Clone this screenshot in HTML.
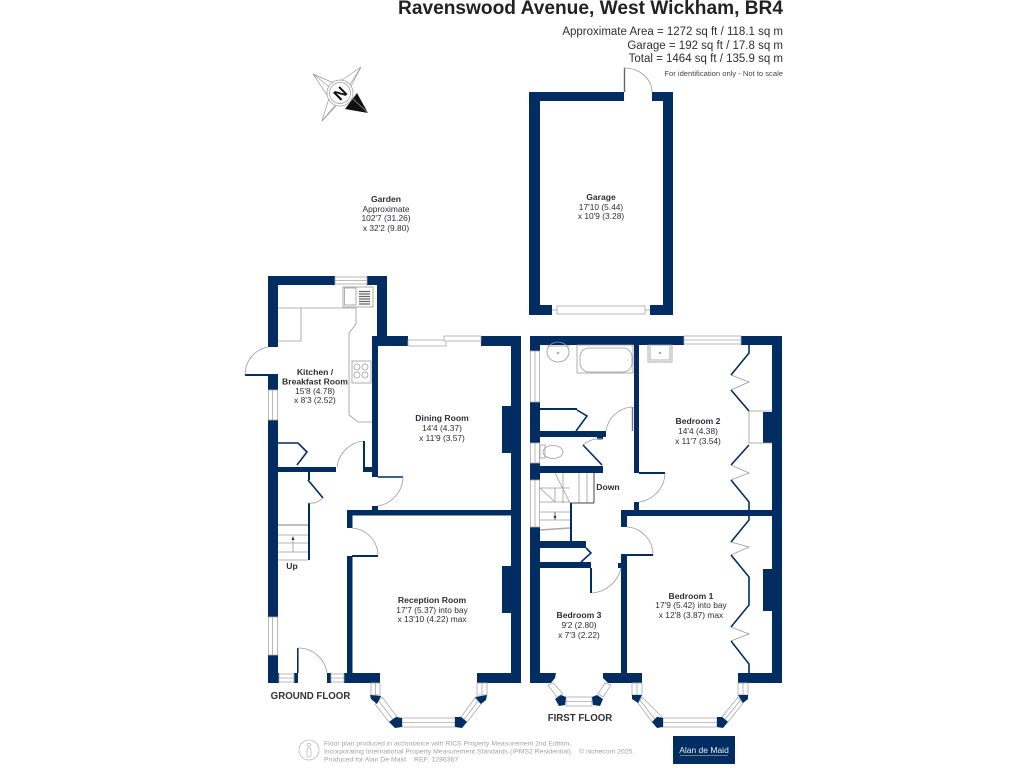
<!DOCTYPE html>
<html><head><meta charset="utf-8"><style>
html,body{margin:0;padding:0;background:#fff;width:1024px;height:768px;overflow:hidden}
svg{display:block;font-family:"Liberation Sans",sans-serif;filter:blur(.35px)}
.w{fill:#012d63}
.k{stroke:#012d63;stroke-width:2;fill:none}
.h{stroke:#012d63;stroke-width:1.6;fill:none}
.g{stroke:#9a9a9a;stroke-width:.8;fill:none}
.win{fill:#fff;stroke:#a8a8a8;stroke-width:.8}
.t{font-size:8.4px;fill:#2e2e33;text-anchor:middle}
.b{font-size:8.6px;font-weight:bold;fill:#2e2e33;text-anchor:middle}
.a{font-size:11.5px;fill:#2f2f2f;text-anchor:end}
.f{font-size:6.85px;fill:#a2a2a8}
</style></head><body>
<svg width="1024" height="768" viewBox="0 0 1024 768" xmlns="http://www.w3.org/2000/svg">
<text x="783" y="14" font-size="19" font-weight="bold" fill="#222" text-anchor="end" textLength="385" lengthAdjust="spacingAndGlyphs">Ravenswood Avenue, West Wickham, BR4</text>
<text class="a" x="783" y="35">Approximate Area = 1272 sq ft / 118.1 sq m</text>
<text class="a" x="783" y="49">Garage = 192 sq ft / 17.8 sq m</text>
<text class="a" x="783" y="62">Total = 1464 sq ft / 135.9 sq m</text>
<text x="783" y="76" font-size="7.6" fill="#444" text-anchor="end">For identification only - Not to scale</text>

<!-- compass -->
<path d="M345 109L357 93L368 113Z" fill="#111"/>
<g fill="none" stroke="#999" stroke-width=".7">
<path d="M313 74L336 84L361 67L350 88M350 96L368 113M336 106L322 121L329 98L313 74"/>
<path d="M313 74L342 97M361 67L342 97M322 121L342 97"/>
<circle cx="340" cy="93" r="13" fill="#fff"/><circle cx="340" cy="93" r="10.500"/>
</g>
<text x="340" y="99" font-size="16" font-weight="bold" fill="#111" text-anchor="middle" transform="rotate(-45 340 93)">N</text>

<!-- garage -->
<path class="w" d="M529 92H624V101H540V305H552V315H529Z"/>
<path class="w" d="M652 92H673V315H650V305H663V101H652Z"/>
<rect class="win" x="557" y="306" width="88" height="8"/>
<path class="g" d="M552 310H557M645 310H650"/>
<path d="M624.500 68V92" stroke="#666" stroke-width="1.400"/>
<path class="g" d="M624 68A28 24 0 0 1 652 92"/>
<text class="b" x="601" y="200">Garage</text>
<text class="t" x="601" y="210">17'10 (5.44)</text>
<text class="t" x="601" y="219">x 10'9 (3.28)</text>
<text class="b" x="386" y="202">Garden</text>
<text class="t" x="386" y="212">Approximate</text>
<text class="t" x="386" y="221">102'7 (31.26)</text>
<text class="t" x="386" y="231">x 32'2 (9.80)</text>

<!-- GROUND FLOOR walls -->
<g class="w">
<rect x="268" y="276" width="67" height="9"/><rect x="367" y="276" width="20" height="9"/>
<rect x="377" y="276" width="10" height="60"/>
<rect x="268" y="276" width="10" height="71"/>
<rect x="268" y="375" width="10" height="15"/>
<rect x="268" y="420" width="10" height="197"/>
<rect x="268" y="655" width="10" height="28"/>
<rect x="268" y="673" width="11" height="10"/>
<rect x="294" y="673" width="4" height="10"/><rect x="327" y="673" width="4" height="10"/>
<rect x="344" y="673" width="36" height="10"/>
<rect x="477" y="673" width="44" height="10"/>
<rect x="372" y="336" width="36" height="10"/><rect x="481" y="336" width="40" height="10"/>
<rect x="511" y="336" width="10" height="347"/>
<rect x="372" y="336" width="6" height="141"/>
<rect x="347" y="510" width="174" height="5.500"/>
<rect x="347" y="510" width="5.500" height="18"/>
<rect x="347" y="556" width="5.500" height="117"/>
<rect x="502" y="406" width="9" height="47"/><rect x="502" y="566" width="9" height="47"/>
<rect x="278" y="467" width="58" height="5"/>
<rect x="363" y="441" width="2" height="28"/><rect x="363" y="467" width="9" height="5"/>
<rect x="372" y="506" width="6" height="4"/>
<rect x="308" y="472" width="2" height="8"/><rect x="308" y="503" width="2" height="57"/>
<rect x="297" y="648" width="1.600" height="25"/>
</g>
<g class="win">
<rect x="335" y="277" width="32" height="7"/>
<rect x="268.500" y="390" width="9" height="30"/><rect x="268.500" y="617" width="9" height="38"/>
<rect x="279" y="674" width="15" height="8"/><rect x="331" y="674" width="13" height="8"/>
<rect x="408" y="340" width="38" height="6"/><rect x="444" y="336" width="37" height="5"/>
<!-- reception bay -->
<rect x="371" y="683" width="9" height="12"/><rect x="477" y="683" width="10" height="12"/>
<rect x="402" y="718" width="53" height="9"/>
<path d="M382 697L397 717L389 722L375 704Z M475 698L461 717L467 722L481 704Z"/>
<path d="M272.500 390V420M272.500 617V655M279 678H294M331 678H344M402 722.500H455M335 280.500H367M375.500 683V695M482 683V695M378.500 700.500L393 719.500M478 701L464 719.500"/>
</g>
<g class="w">
<path d="M370 695L381 696L377 704L371 699Z M389 722L396 717L402 718V727L395 728Z M455 717H461L467 722L462 728L455 727Z M475 697L487 695L486 700L481 704Z"/>
</g>
<path class="k" d="M245 375H278"/>
<path class="g" d="M268 347A28 28 0 0 0 245 375"/>
<path class="h" d="M278 443H298L307 452L297 465"/>
<path class="g" d="M278 308H356V324L349 333V415L358 422H372M301 308V341H278"/>
<rect class="g" x="343" y="287" width="30" height="20"/>
<rect class="g" x="344.500" y="288" width="11.500" height="17"/>
<path d="M359 291.500h11M359 294h11M359 296.500h11M359 299h11M359 301.500h11M359 304h11" stroke="#666" stroke-width="1.300"/>
<rect class="g" x="352" y="361" width="19" height="22"/>
<g class="g"><circle cx="357" cy="367" r="3"/><circle cx="365" cy="367" r="3"/><circle cx="357" cy="375" r="3"/><circle cx="365" cy="375" r="3"/></g>
<path class="g" d="M337 467A30 30 0 0 1 363 441"/>
<path class="h" d="M378 477H403"/>
<path class="g" d="M403 477A30 30 0 0 1 378 506"/>
<path class="h" d="M308 480L323 498"/>
<path class="g" d="M323 498A18 18 0 0 1 308 503"/>
<path d="M278 525H308" stroke="#aaa" stroke-width="1.600"/>
<path class="g" d="M278 535H308M278 543H308M278 552H308M278 560H308M293 538V552"/>
<path d="M293 536l-1.500 4h3Z" fill="#333"/>
<path class="k" d="M352 556H378"/>
<path class="g" d="M352 528A28 28 0 0 1 378 556M298 648A29 29 0 0 1 327 673"/>

<text class="b" x="315" y="375">Kitchen /</text>
<text class="b" x="315" y="384.500">Breakfast Room</text>
<text class="t" x="315" y="394">15'8 (4.78)</text>
<text class="t" x="315" y="403">x 8'3 (2.52)</text>
<text class="b" x="442" y="421">Dining Room</text>
<text class="t" x="442" y="431">14'4 (4.37)</text>
<text class="t" x="442" y="441">x 11'9 (3.57)</text>
<text class="b" x="432" y="603">Reception Room</text>
<text class="t" x="432" y="613">17'7 (5.37) into bay</text>
<text class="t" x="432" y="622">x 13'10 (4.22) max</text>
<text class="b" x="292" y="569">Up</text>
<text x="310.500" y="699" font-size="9.700" font-weight="bold" fill="#333" text-anchor="middle">GROUND FLOOR</text>

<!-- FIRST FLOOR walls -->
<g class="w">
<rect x="530" y="336" width="154" height="9"/><rect x="741" y="336" width="41" height="9"/>
<rect x="772" y="336" width="10" height="347"/>
<rect x="530" y="336" width="10" height="15"/>
<rect x="530" y="402" width="10" height="41"/>
<rect x="530" y="463" width="10" height="17"/>
<rect x="530" y="527" width="10" height="146"/>
<path d="M530 673H556L555 678L551 683H530Z"/>
<path d="M603 673V678L608 683H642V673Z"/>
<rect x="738" y="673" width="44" height="10"/>
<rect x="621" y="510" width="161" height="6"/>
<rect x="621" y="510" width="6" height="17"/>
<rect x="621" y="555" width="6" height="118"/>
<rect x="618" y="563" width="3" height="5"/>
<rect x="634" y="345" width="5" height="128"/>
<rect x="634" y="502" width="5" height="8"/>
<rect x="540" y="431" width="66" height="6"/><rect x="597" y="437" width="6" height="2.500"/>
<rect x="540" y="466" width="63" height="7"/>
<rect x="540" y="408" width="37" height="2"/>
<rect x="540" y="541" width="46" height="7"/>
<rect x="540" y="562" width="51" height="6"/>
<rect x="570" y="503" width="2" height="38"/>
<rect x="590" y="568" width="2" height="25"/>
<rect x="763" y="412" width="9" height="31"/>
<rect x="763" y="569" width="9" height="42"/>
</g>
<g class="win">
<rect x="684" y="336" width="57" height="8"/>
<rect x="530.500" y="351" width="9" height="51"/>
<rect x="530.500" y="443" width="9" height="20"/>
<rect x="530.500" y="480" width="9" height="47"/>
<!-- bedroom 3 bay -->
<path d="M548 685L553 683L563 694L557 697Z M598 694L605 683L611 685L603 697Z"/>
<rect x="566" y="697" width="26" height="9"/>
<!-- bedroom 1 bay -->
<rect x="632" y="683" width="10" height="12"/><rect x="738" y="683" width="10" height="12"/>
<rect x="663" y="718" width="54" height="9"/>
<path d="M642 697L663 718L657 717L652 722L638 703Z M738 697L722 717L728 722L743 703Z"/>
<path d="M535 351V402M535 443V463M535 480V527M684 340H741M566 701.500H592M663 722.500H717M637 683V695M743 683V695M640 700L655 719.500M740.500 700L725 719.500"/>
</g>
<g class="w">
<path d="M555 699L561 695L566 697L565 705L559 706Z M592 697L597 695L603 699L600 706L593 705Z"/>
<path d="M632 695H642L638 703L632 699Z M652 722L657 717L663 718V727L657 728Z M717 717H722L728 722L723 728L717 727Z M738 695H748V699L743 703Z"/>
</g>
<!-- fittings -->
<g class="g">
<rect x="577" y="345" width="56" height="28"/><rect x="580" y="348" width="52" height="24" rx="9"/>
<path d="M547 346H570"/><ellipse cx="558" cy="352" rx="11" ry="10"/><circle cx="558" cy="353" r=".8"/>
<rect x="648" y="345" width="24" height="17"/><path d="M650 346V360H670V346"/><circle cx="660" cy="353" r=".8"/>
<ellipse cx="553" cy="452" rx="10" ry="6.500"/><rect x="540" y="445" width="5" height="13"/>
<path d="M606 431A28 28 0 0 1 632 407M603 439A25 25 0 0 0 583 445M665 473A30 30 0 0 1 639 502M627 527A28 28 0 0 1 653 555M621 568A32 32 0 0 1 592 593"/>
<path d="M749 411H772M749 443H772M749 411V443"/>
<path d="M731 375L749 382L731 390M731 465L749 473L731 480M731 542L749 547L731 555M731 627L749 634L731 641"/>
<path d="M540 488H570M540 502H570M540 512H570M540 520H570M563 473V503M579 473V503M587 473V503M555 473L570 503M540 488L555 502M555 488V502"/>
</g>
<path d="M632.500 407V431" stroke="#777" stroke-width="1.400"/>
<path d="M540 530L570 528" stroke="#aaa" stroke-width="1.500"/>
<path d="M555 512.500V518" stroke="#333" stroke-width=".8"/><path d="M555 520l-1.500-4h3Z" fill="#333"/>
<path class="h" d="M577 410L587 416L576 431M583 445L602 465M586 548L591 553L581 562"/>
<path d="M594 473V503M570 503H594" stroke="#444" stroke-width="1"/>
<path class="h" d="M749 345V353L731 375M731 390L749 411M749 445L731 465M731 480L749 502V510"/>
<path class="h" d="M749 516V520L731 542M731 555L749 577V605L731 627M731 641L749 664V673"/>
<path class="k" d="M639 473H665M621 555H653"/>

<text class="b" x="698" y="424">Bedroom 2</text>
<text class="t" x="698" y="434">14'4 (4.38)</text>
<text class="t" x="698" y="444">x 11'7 (3.54)</text>
<text class="b" x="608" y="490">Down</text>
<text class="b" x="691" y="599">Bedroom 1</text>
<text class="t" x="691" y="608">17'9 (5.42) into bay</text>
<text class="t" x="691" y="618">x 12'8 (3.87) max</text>
<text class="b" x="579" y="618">Bedroom 3</text>
<text class="t" x="579" y="628">9'2 (2.80)</text>
<text class="t" x="579" y="638">x 7'3 (2.22)</text>
<text x="580" y="721" font-size="9.700" font-weight="bold" fill="#333" text-anchor="middle">FIRST FLOOR</text>

<!-- footer -->
<g fill="none" stroke="#bbb" stroke-width=".8"><circle cx="309" cy="750" r="10"/><circle cx="309" cy="745" r="1.800"/><rect x="307" y="748" width="4" height="9" rx="2"/></g>
<text class="f" x="324" y="745.500">Floor plan produced in accordance with RICS Property Measurement 2nd Edition,</text>
<text class="f" x="324" y="753.500">Incorporating International Property Measurement Standards (IPMS2 Residential).</text>
<text class="f" x="579" y="753.500">© nichecom 2025.</text>
<text class="f" x="324" y="761.500">Produced for Alan De Maid.</text>
<text class="f" x="414" y="761.500">REF: 1286367</text>
<rect x="673" y="736" width="62" height="28" fill="#012d63"/>
<text x="704" y="753" font-size="8.500" fill="#e8ecf2" text-anchor="middle">Alan de Maid</text>
<rect x="680" y="755" width="48" height=".8" fill="#8a9a80"/>
</svg>
</body></html>
